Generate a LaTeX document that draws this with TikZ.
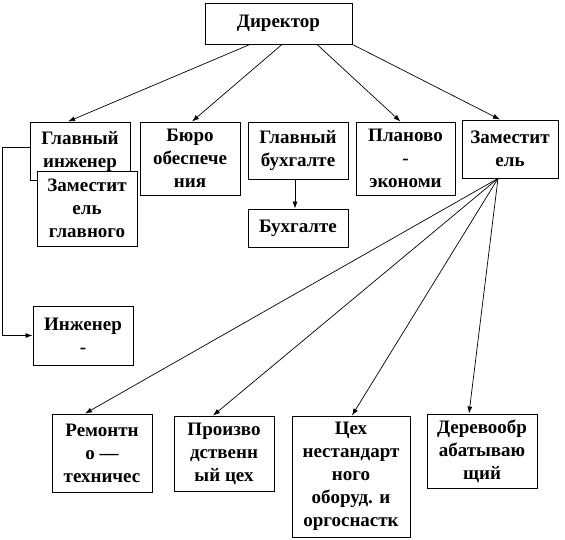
\documentclass[tikz,border=0pt]{standalone}
\usepackage{fontspec}
\setmainfont{Liberation Serif}
\usepackage{tikz}
\usetikzlibrary{arrows.meta,positioning}

\begin{document}
\begin{tikzpicture}[
        x=1pt, y=-1pt,
        unit/.style={draw=black, fill=white, line width=0.9pt, align=center, inner sep=1pt, font=\fontsize{19}{23}\selectfont\bfseries},
        link/.style={line width=0.7pt, -{Latex[length=7pt,width=5pt]}}
    ]
        \useasboundingbox (0,0) rectangle (565,540);

        % Top
        \node[unit, minimum width=147pt, minimum height=41pt] (dir) at (278.5,23.5) {Директор};

        % Second row
        \node[unit, minimum width=100pt, minimum height=58pt] (glinzh) at (80,151) {Главный\\инженер};
        \node[unit, minimum width=100pt, minimum height=75pt] (zamgl) at (87,208.5) {Заместит\\ель\\главного};
        \node[unit, minimum width=100pt, minimum height=73pt] (buro) at (190,158.5) {Бюро\\обеспече\\ния};
        \node[unit, minimum width=100pt, minimum height=57pt] (glbuh) at (298,150.5) {Главный\\бухгалте};
        \node[unit, minimum width=100pt, minimum height=38pt] (buh) at (298,228) {Бухгалте};
        \node[unit, minimum width=99pt, minimum height=73pt] (plan) at (405.5,158.5) {Планово\\-\\экономи};
        \node[unit, minimum width=96pt, minimum height=58pt] (zam) at (510,149) {Заместит\\ель};

        % Engineer
        \node[unit, minimum width=100pt, minimum height=59pt] (inzh) at (83,335.5) {Инженер\\-};

        % Workshops
        \node[unit, minimum width=100pt, minimum height=78pt] (rem) at (102,453) {Ремонтн\\о —\\техничес};
        \node[unit, minimum width=100pt, minimum height=75pt] (proizv) at (224,453.5) {Произво\\дственн\\ый цех};
        \node[unit, minimum width=118pt, minimum height=121pt] (ceh) at (351,476.5) {Цех\\нестандарт\\ного\\оборуд. и\\оргоснастк};
        \node[unit, minimum width=110pt, minimum height=74pt] (derev) at (482,451) {Деревообр\\абатываю\\щий};

        % Director links
        \draw[link] ([xshift=-28.5pt]dir.south) -- ([xshift=-12pt]glinzh.north);
        \draw[link] ([xshift=3.5pt]dir.south) -- ([xshift=2pt]buro.north);
        \draw[link] ([xshift=38.5pt]dir.south) -- ([xshift=-5pt]plan.north);
        \draw[link] (dir.south east) -- ([xshift=-10pt]zam.north);

        % Deputy links
        \draw[link] ([xshift=-12pt]zam.south) -- ([xshift=-17pt]rem.north);
        \draw[link] ([xshift=-12pt]zam.south) -- ([xshift=-11pt]proizv.north);
        \draw[link] ([xshift=-12pt]zam.south) -- ([xshift=1pt]ceh.north);
        \draw[link] ([xshift=-12pt]zam.south) -- ([xshift=-13pt]derev.north);

        % Other links
        \draw[link] ([xshift=-3pt]glbuh.south) -- ([xshift=-3pt]buh.north);
        \draw[link] ([yshift=4pt]glinzh.west) -- ++(-27,0) |- (inzh.west);
    \end{tikzpicture}
\end{document}
